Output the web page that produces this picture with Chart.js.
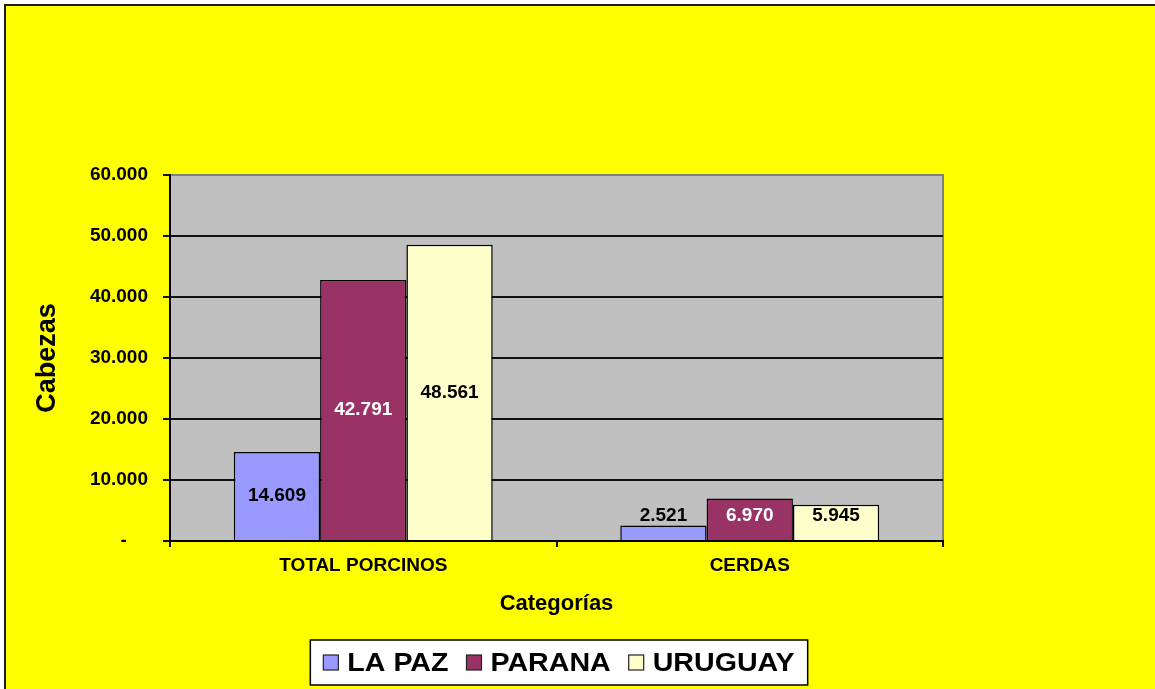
<!DOCTYPE html>
<html>
<head>
<meta charset="utf-8">
<script src="https://cdn.jsdelivr.net/npm/chart.js@4.4.1/dist/chart.umd.min.js"></script>
<style>
  body { margin: 0; background: #fff; }
  #frame {
    position: absolute; left: 4px; top: 4px;
    width: 1151px; height: 685px; box-sizing: border-box;
    border-top: 2px solid #1a1a1a; border-left: 2px solid #1a1a1a;
    background: #ffff00;
  }
  canvas { display: block; }
</style>
</head>
<body>
<div id="frame"><canvas id="myChart" width="1149" height="683"></canvas></div>
<script>
// data
const categories = ["TOTAL PORCINOS", "CERDAS"];
const seriesNames = ["LA PAZ", "PARANA", "URUGUAY"];
const laPaz = [14609, 2521];
const parana = [42791, 6970];
const uruguay = [48561, 5945];
const yTickLabels = ["-", "10.000", "20.000", "30.000", "40.000", "50.000", "60.000"];

const fill = ["#9999ff", "#993366", "#ffffcc"];
const labelColor = ["#000", "#fff", "#000"];
const FONT = "'Liberation Sans', Arial, sans-serif";

Chart.defaults.font.family = FONT;
Chart.defaults.color = "#000";

const fmt = (v) => String(v).replace(/\B(?=(\d{3})+(?!\d))/g, ".");

// gray plot area with gray top/right border
const plotBg = {
  id: "plotBg",
  beforeDraw(chart) {
    const { ctx, chartArea: a } = chart;
    ctx.save();
    ctx.fillStyle = "#c0c0c0";
    ctx.fillRect(a.left, a.top, a.right - a.left, a.bottom - a.top);
    ctx.strokeStyle = "#808080";
    ctx.lineWidth = 2;
    ctx.beginPath();
    ctx.moveTo(a.left, a.top);
    ctx.lineTo(a.right, a.top);
    ctx.lineTo(a.right, a.bottom);
    ctx.stroke();
    ctx.restore();
  },
};

// value labels inside the bars
const barLabels = {
  id: "barLabels",
  afterDatasetsDraw(chart) {
    const ctx = chart.ctx;
    ctx.save();
    ctx.font = "bold 19px " + FONT;
    ctx.textAlign = "center";
    ctx.textBaseline = "middle";
    chart.data.datasets.forEach((ds, i) => {
      chart.getDatasetMeta(i).data.forEach((bar, j) => {
        let y = Math.min((bar.y + bar.base) / 2, bar.base - 24);
        ctx.fillStyle = labelColor[i];
        ctx.fillText(fmt(ds.data[j]), bar.x, y);
      });
    });
    ctx.restore();
  },
};

// legend in a white box under the axis title
const boxLegend = {
  id: "boxLegend",
  afterDraw(chart) {
    const ctx = chart.ctx;
    const sq = 15, gap = 9, between = 18, pad = 13, sx = 1.1;
    const cx = 553, cy = 656.5, h = 45;
    ctx.save();
    ctx.font = "bold 26px " + FONT;
    const widths = chart.data.datasets.map((d) => ctx.measureText(d.label).width * sx);
    let total = 0;
    widths.forEach((w, i) => (total += sq + gap + w + (i > 0 ? between : 0)));
    const bw = total + pad * 2;
    const left = cx - bw / 2;
    ctx.fillStyle = "#fff";
    ctx.fillRect(left, cy - h / 2, bw, h);
    ctx.strokeStyle = "#000";
    ctx.lineWidth = 1.5;
    ctx.strokeRect(left, cy - h / 2, bw, h);
    let x = left + pad;
    chart.data.datasets.forEach((d, i) => {
      ctx.fillStyle = d.backgroundColor;
      ctx.fillRect(x, cy - sq / 2, sq, sq);
      ctx.lineWidth = 1.2;
      ctx.strokeStyle = "#222";
      ctx.strokeRect(x, cy - sq / 2, sq, sq);
      ctx.fillStyle = "#000";
      ctx.textBaseline = "middle";
      ctx.save();
      ctx.translate(x + sq + gap, cy + 1);
      ctx.scale(sx, 1);
      ctx.fillText(d.label, 0, 0);
      ctx.restore();
      x += sq + gap + widths[i] + between;
    });
    ctx.restore();
  },
};

const data = {
  labels: categories,
  datasets: [
    { label: seriesNames[0], data: laPaz, backgroundColor: fill[0] },
    { label: seriesNames[1], data: parana, backgroundColor: fill[1] },
    { label: seriesNames[2], data: uruguay, backgroundColor: fill[2] },
  ],
};

const config = {
  type: "bar",
  data: data,
  options: {
    responsive: false,
    animation: false,
    layout: { padding: { top: 169, right: 212, left: 0, bottom: 72 } },
    datasets: {
      bar: {
        categoryPercentage: 0.67,
        barPercentage: 1,
        borderColor: "#000",
        borderWidth: 1.5,
      },
    },
    plugins: {
      legend: { display: false },
      tooltip: { enabled: false },
    },
    scales: {
      x: {
        afterFit: (s) => { s.height = 76; },
        grid: {
          offset: true,
          drawOnChartArea: false,
          tickLength: 6,
          color: "#111",
          lineWidth: 2,
        },
        border: { color: "#000", width: 2 },
        ticks: { font: { size: 19, weight: "bold" }, color: "#000", padding: 7 },
        title: {
          display: true,
          text: "Categorías",
          font: { size: 22, weight: "bold" },
          color: "#000",
          padding: { top: 0, bottom: 0 },
        },
      },
      y: {
        min: 0,
        max: 60000,
        afterFit: (s) => { s.width = 164; },
        ticks: {
          stepSize: 10000,
          font: { size: 19, weight: "bold" },
          color: "#000",
          padding: 15,
          callback: (v, i) => (i === 0 ? yTickLabels[i] + "    " : yTickLabels[i]),
        },
        grid: {
          color: (c) => (c.tick && c.tick.value === 60000 ? "rgba(0,0,0,0)" : "#111"),
          tickColor: "#111",
          lineWidth: 2,
          tickLength: 7,
        },
        border: { color: "#000", width: 2 },
        title: {
          display: true,
          text: "Cabezas",
          font: { size: 27, weight: "bold" },
          color: "#000",
          padding: { top: 25, bottom: 0 },
        },
      },
    },
  },
  plugins: [plotBg, barLabels, boxLegend],
};

const myChart = new Chart(document.getElementById("myChart"), config);
</script>
</body>
</html>
